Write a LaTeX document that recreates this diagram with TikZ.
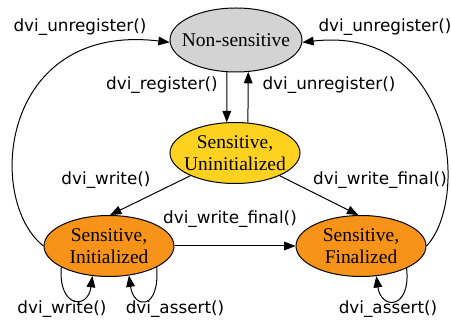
\documentclass[tikz,border=0pt]{standalone}
\usepackage{fontspec}
\setmainfont{Liberation Serif}
\newfontfamily\callfont{DejaVu Sans}
\usetikzlibrary{arrows.meta,shapes.geometric}
\definecolor{StateGray}{HTML}{D3D3D3}
\definecolor{StateYellow}{HTML}{FFD21F}
\definecolor{StateOrange}{HTML}{F8931A}

\begin{document}
\begin{tikzpicture}[x=0.75pt,y=-0.75pt,
  statenode/.style={ellipse,draw,line width=0.75pt,inner sep=0pt,inner xsep=-6pt,
    minimum width=97.5pt,minimum height=45.75pt,align=center,
    font=\fontsize{14.6}{16}\selectfont},
  call/.style={font=\callfont\fontsize{12.6}{14}\selectfont,inner sep=0pt},
  trans/.style={line width=0.75pt,-{Triangle[length=8.5pt,width=6.5pt]}}]
  \useasboundingbox (0,0) rectangle (451,320);
  % states
  \node[statenode,fill=StateGray,minimum width=99pt,minimum height=48pt] (non) at (236,40) {Non-sensitive};
  \node[statenode,fill=StateYellow] (uninit) at (235,153) {Sensitive,\\Uninitialized};
  \node[statenode,fill=StateOrange] (init) at (109,246) {Sensitive,\\Initialized};
  \node[statenode,fill=StateOrange] (final) at (361,246) {Sensitive,\\Finalized};
  % transitions
  \draw[trans] (non.254) -- (uninit.105);
  \draw[trans] (uninit.67) -- (non.291);
  \draw[trans] (uninit.207) -- (init.88);
  \draw[trans] (uninit.333) -- (final.95);
  \draw[trans] (init.east) -- (final.west);
  \draw[trans] (init.west) .. controls (-15,200) and (0,22) .. (non.182);
  \draw[trans] (final.east) .. controls (470,200) and (455,25) .. (non.358);
  \draw[trans] (init.204) .. controls (58,308) and (88,310) .. (init.241);
  \draw[trans] (init.336) .. controls (160,310) and (134,310) .. (init.304);
  \draw[trans] (final.334) .. controls (411,310) and (381,310) .. (final.297);
  % calls
  \node[call] (unreg-left) at (80,27) {dvi\_unregister()};
  \node[call] (unreg-right) at (385,27) {dvi\_unregister()};
  \node[call] (reg) at (162,85) {dvi\_register()};
  \node[call] (unreg-mid) at (329,85) {dvi\_unregister()};
  \node[call] (write-mid) at (106,180) {dvi\_write()};
  \node[call] (final-right) at (380,180) {dvi\_write\_final()};
  \node[call] (final-mid) at (230,219) {dvi\_write\_final()};
  \node[call] (write-loop) at (62,309) {dvi\_write()};
  \node[call] (assert-init) at (175,309) {dvi\_assert()};
  \node[call] (assert-final) at (388,309) {dvi\_assert()};
\end{tikzpicture}
\end{document}
